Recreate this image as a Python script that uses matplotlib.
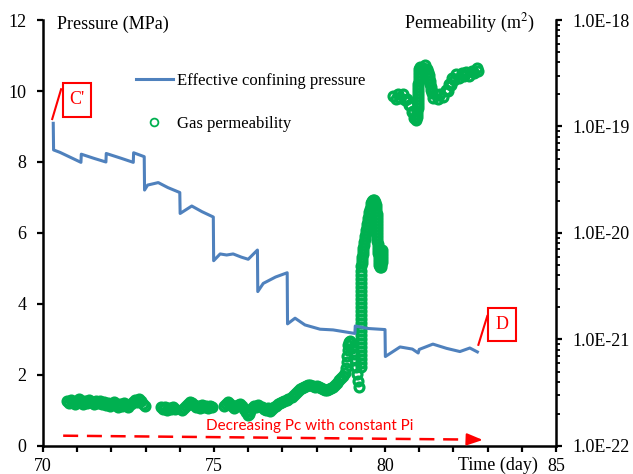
import matplotlib
matplotlib.use("Agg")
import matplotlib.pyplot as plt
from matplotlib.lines import Line2D
from matplotlib.patches import Rectangle
from matplotlib.ticker import FuncFormatter, LogLocator, NullFormatter

plt.rcParams['font.family'] = 'Liberation Serif'
plt.rcParams['mathtext.fontset'] = 'stix'

BLUE = '#4F81BD'
GREEN = '#00B050'
RED = '#FF0000'

# effective confining pressure (MPa) vs time (day)
pc_time = [70.30, 70.31, 70.50, 71.11, 71.12, 71.50, 71.84, 71.85, 72.30, 72.64,
           72.65, 72.96, 72.97, 73.06, 73.37, 73.65, 74.00, 74.01, 74.35, 74.65,
           74.98, 74.99, 75.18, 75.37, 75.56, 75.80, 76.00, 76.27, 76.28, 76.44,
           76.80, 77.14, 77.15, 77.37, 77.66, 78.10, 78.48, 79.12, 79.13, 79.50,
           80.00, 80.01, 80.44, 80.80, 80.97, 81.00, 81.40, 81.80, 82.19, 82.48,
           82.70]
pc_mpa = [9.09, 8.34, 8.27, 7.99, 8.22, 8.10, 8.00, 8.24, 8.10, 7.99,
          8.26, 8.15, 7.21, 7.35, 7.42, 7.28, 7.14, 6.55, 6.76, 6.60,
          6.45, 5.22, 5.41, 5.38, 5.41, 5.32, 5.26, 5.52, 4.35, 4.58,
          4.76, 4.88, 3.44, 3.60, 3.41, 3.29, 3.27, 3.17, 3.38, 3.31,
          3.28, 2.52, 2.79, 2.73, 2.62, 2.72, 2.87, 2.75, 2.66, 2.76,
          2.65]

# gas permeability (m2), one pair of lists per measurement run
k_t1 = [70.70, 70.76, 70.82, 70.88, 70.94, 71.00, 71.06, 71.12, 71.18, 71.24,
        71.30, 71.36, 71.42, 71.48, 71.54, 71.60, 71.66, 71.72, 71.78, 71.84,
        71.90, 71.96, 72.02, 72.08, 72.14, 72.20, 72.26, 72.32, 72.38, 72.44,
        72.50, 72.56, 72.62, 72.68, 72.74, 72.80, 72.86, 72.92, 72.98]
k_v1 = [2.65e-22, 2.53e-22, 2.70e-22, 2.59e-22, 2.48e-22, 2.65e-22, 2.76e-22, 2.59e-22, 2.48e-22, 2.65e-22,
        2.53e-22, 2.70e-22, 2.59e-22, 2.48e-22, 2.65e-22, 2.53e-22, 2.65e-22, 2.48e-22, 2.59e-22, 2.43e-22,
        2.53e-22, 2.37e-22, 2.48e-22, 2.59e-22, 2.43e-22, 2.32e-22, 2.48e-22, 2.37e-22, 2.53e-22, 2.43e-22,
        2.32e-22, 2.48e-22, 2.59e-22, 2.70e-22, 2.59e-22, 2.76e-22, 2.65e-22, 2.48e-22, 2.37e-22]

k_t2 = [73.45, 73.51, 73.57, 73.63, 73.69, 73.75, 73.81, 73.87]
k_v2 = [2.32e-22, 2.23e-22, 2.32e-22, 2.18e-22, 2.27e-22, 2.23e-22, 2.32e-22, 2.23e-22]

k_t3 = [74.05, 74.11, 74.17, 74.23, 74.29, 74.35, 74.41, 74.47, 74.53, 74.59,
        74.65, 74.71, 74.77, 74.83, 74.89, 74.95]
k_v3 = [2.18e-22, 2.27e-22, 2.37e-22, 2.48e-22, 2.59e-22, 2.53e-22, 2.43e-22, 2.32e-22, 2.37e-22, 2.27e-22,
        2.43e-22, 2.32e-22, 2.37e-22, 2.27e-22, 2.37e-22, 2.32e-22]

k_t4 = [75.28, 75.34, 75.40, 75.46, 75.52, 75.58, 75.64, 75.70, 75.76, 75.82,
        75.88, 75.94, 75.98, 76.02, 76.06, 76.12, 76.18, 76.24, 76.28]
k_v4 = [2.37e-22, 2.48e-22, 2.59e-22, 2.48e-22, 2.37e-22, 2.27e-22, 2.37e-22, 2.43e-22, 2.48e-22, 2.37e-22,
        2.23e-22, 2.08e-22, 1.95e-22, 2.00e-22, 2.13e-22, 2.27e-22, 2.37e-22, 2.32e-22, 2.43e-22]

k_t5 = [76.40, 76.46, 76.52, 76.58, 76.64, 76.70, 76.76, 76.82, 76.88, 76.94,
        77.00, 77.06, 77.12, 77.16]
k_v5 = [2.32e-22, 2.23e-22, 2.18e-22, 2.27e-22, 2.13e-22, 2.23e-22, 2.32e-22, 2.37e-22, 2.48e-22, 2.53e-22,
        2.59e-22, 2.65e-22, 2.70e-22, 2.76e-22]

k_t6 = [77.28, 77.34, 77.40, 77.46, 77.52, 77.58, 77.64, 77.70, 77.76, 77.82,
        77.88, 77.94, 78.00, 78.06, 78.12, 78.18, 78.24, 78.30, 78.36, 78.42,
        78.48, 78.54, 78.60, 78.66, 78.72, 78.78, 78.84]
k_v6 = [2.88e-22, 3.01e-22, 3.15e-22, 3.28e-22, 3.43e-22, 3.50e-22, 3.58e-22, 3.66e-22, 3.74e-22, 3.74e-22,
        3.66e-22, 3.58e-22, 3.66e-22, 3.58e-22, 3.50e-22, 3.43e-22, 3.36e-22, 3.36e-22, 3.43e-22, 3.50e-22,
        3.58e-22, 3.74e-22, 3.91e-22, 4.17e-22, 4.35e-22, 4.54e-22, 4.85e-22]

k_t7 = [78.87, 78.89, 78.90, 78.91, 78.92, 78.94, 78.97, 79.00, 79.04, 79.08,
        79.12, 79.16, 79.19, 79.22, 79.25]
k_v7 = [5.40e-22, 6.15e-22, 7.00e-22, 7.97e-22, 8.88e-22, 9.48e-22, 9.68e-22, 9.27e-22, 8.32e-22, 7.31e-22,
        6.42e-22, 5.52e-22, 4.74e-22, 4.08e-22, 3.58e-22]

k_t8 = [79.31, 79.31, 79.31, 79.31, 79.31, 79.30, 79.30, 79.30, 79.30, 79.30,
        79.30, 79.30, 79.30, 79.30, 79.30, 79.30, 79.29, 79.29, 79.29, 79.29,
        79.29, 79.29, 79.29, 79.29, 79.29]
k_v8 = [5.52e-22, 6.02e-22, 6.56e-22, 7.15e-22, 7.80e-22, 8.50e-22, 9.27e-22, 1.01e-21, 1.10e-21, 1.20e-21,
        1.31e-21, 1.43e-21, 1.56e-21, 1.70e-21, 1.85e-21, 2.02e-21, 2.20e-21, 2.40e-21, 2.62e-21, 2.85e-21,
        3.11e-21, 3.39e-21, 3.70e-21, 4.03e-21, 4.40e-21]

k_t9 = [79.31, 79.32, 79.33, 79.34, 79.35, 79.36, 79.37, 79.38, 79.39, 79.41,
        79.42, 79.44, 79.45, 79.47, 79.48, 79.50, 79.51, 79.53, 79.54, 79.56,
        79.58, 79.60, 79.63, 79.65, 79.68, 79.71, 79.73, 79.74, 79.75, 79.76,
        79.76, 79.76, 79.77, 79.77, 79.77, 79.78, 79.78, 79.78, 79.78, 79.79,
        79.79, 79.80, 79.80, 79.81, 79.81, 79.82, 79.83, 79.85, 79.87, 79.89,
        79.90, 79.91, 79.91, 79.91, 79.91]
k_v9 = [4.90e-21, 5.23e-21, 5.58e-21, 5.95e-21, 6.35e-21, 6.78e-21, 7.23e-21, 7.71e-21, 8.23e-21, 8.78e-21,
        9.37e-21, 1.00e-20, 1.07e-20, 1.14e-20, 1.22e-20, 1.30e-20, 1.38e-20, 1.48e-20, 1.57e-20, 1.68e-20,
        1.79e-20, 1.91e-20, 2.00e-20, 2.04e-20, 2.04e-20, 1.95e-20, 1.83e-20, 1.72e-20, 1.61e-20, 1.51e-20,
        1.41e-20, 1.32e-20, 1.24e-20, 1.16e-20, 1.09e-20, 1.02e-20, 9.58e-21, 8.98e-21, 8.41e-21, 7.88e-21,
        7.39e-21, 6.92e-21, 6.49e-21, 6.08e-21, 5.70e-21, 5.34e-21, 5.01e-21, 4.80e-21, 4.80e-21, 5.01e-21,
        5.34e-21, 5.70e-21, 6.08e-21, 6.49e-21, 6.92e-21]

k_t10 = [80.23, 80.31, 80.38, 80.45, 80.53, 80.59, 80.64, 80.69, 80.73, 80.78,
         80.82, 80.86, 80.91, 80.93, 80.94, 80.94, 80.95, 80.95, 80.95, 80.96,
         80.96, 80.96, 80.97, 80.97, 80.97, 80.98, 80.98, 80.98, 80.99, 80.99,
         81.02, 81.10, 81.17, 81.23, 81.27, 81.29, 81.30, 81.31, 81.32, 81.33,
         81.34, 81.36, 81.40, 81.48, 81.55, 81.62, 81.70, 81.77, 81.83, 81.87,
         81.92, 81.96, 82.02, 82.09, 82.16, 82.24, 82.31, 82.38, 82.46, 82.53,
         82.60, 82.68, 82.72]
k_v10 = [1.93e-19, 1.81e-19, 2.02e-19, 1.87e-19, 2.04e-19, 1.79e-19, 1.83e-19, 1.58e-19, 1.59e-19, 1.37e-19,
         1.40e-19, 1.19e-19, 1.15e-19, 1.23e-19, 1.31e-19, 1.40e-19, 1.49e-19, 1.59e-19, 1.70e-19, 1.81e-19,
         1.93e-19, 2.06e-19, 2.20e-19, 2.35e-19, 2.51e-19, 2.67e-19, 2.85e-19, 3.04e-19, 3.25e-19, 3.47e-19,
         3.62e-19, 3.51e-19, 3.78e-19, 3.47e-19, 3.25e-19, 3.04e-19, 2.85e-19, 2.67e-19, 2.51e-19, 2.35e-19,
         2.20e-19, 2.06e-19, 1.87e-19, 2.00e-19, 1.83e-19, 2.02e-19, 1.91e-19, 2.20e-19, 2.15e-19, 2.51e-19,
         2.45e-19, 2.85e-19, 2.73e-19, 3.08e-19, 2.88e-19, 3.18e-19, 2.95e-19, 3.25e-19, 2.98e-19, 3.32e-19,
         3.15e-19, 3.54e-19, 3.32e-19]

k_time = k_t1 + k_t2 + k_t3 + k_t4 + k_t5 + k_t6 + k_t7 + k_t8 + k_t9 + k_t10
k_perm = k_v1 + k_v2 + k_v3 + k_v4 + k_v5 + k_v6 + k_v7 + k_v8 + k_v9 + k_v10

perm_ticks = [1e-22, 1e-21, 1e-20, 1e-19, 1e-18]

fig = plt.figure(figsize=(6.33, 4.74), dpi=100)
ax = fig.add_axes([0.0679, 0.0591, 0.8105, 0.8987])
ax2 = ax.twinx()

# permeability on the right (log) axis, drawn underneath the pressure curve
ax2.plot(k_time, k_perm, linestyle='none', marker='o', markersize=6.4,
         markerfacecolor='none', markeredgecolor=GREEN, markeredgewidth=2.3)
ax2.set_yscale('log')
ax2.set_ylim(1e-22, 1e-18)
ax2.set_yticks(perm_ticks)
ax2.yaxis.set_major_formatter(FuncFormatter(lambda v, p: f'{v:.1E}'))
ax2.yaxis.set_minor_locator(LogLocator(base=10, subs=range(2, 10), numticks=20))
ax2.yaxis.set_minor_formatter(NullFormatter())

ax.plot(pc_time, pc_mpa, color=BLUE, lw=2.2, solid_joinstyle='round')
ax.set_xlim(70, 85)
ax.set_ylim(0, 12)
ax.set_xticks(range(70, 86))
ax.set_xticklabels([str(v) if v in (70, 75, 80, 85) else '' for v in range(70, 86)])
ax.set_yticks(range(0, 13, 2))

ax.set_zorder(ax2.get_zorder() + 1)
ax.patch.set_visible(False)

for a in (ax, ax2):
    a.spines['top'].set_visible(False)
ax.spines['right'].set_visible(False)
ax2.spines['left'].set_visible(False)
ax2.spines['bottom'].set_visible(False)
for sp in (ax.spines['left'], ax.spines['bottom'], ax2.spines['right']):
    sp.set_linewidth(1.8)

ax.tick_params(axis='x', direction='out', length=4, width=1.6, labelsize=13, pad=5)
ax.tick_params(axis='y', direction='out', length=4, width=1.6, labelsize=13, pad=8)
ax2.tick_params(axis='y', which='major', direction='out', length=4, width=1.6, labelsize=13, pad=8)
ax2.tick_params(axis='y', which='minor', direction='out', length=3, width=1.3)

ax.text(0.028, 0.980, 'Pressure (MPa)', transform=ax.transAxes, fontsize=13,
        ha='left', va='baseline')
ax.text(0.959, 0.980, 'Permeability (m$^{2}$)', transform=ax.transAxes, fontsize=13,
        ha='right', va='baseline')
ax.text(0.965, -0.0563, 'Time (day)', transform=ax.transAxes, fontsize=13,
        ha='right', va='baseline')

handles = [Line2D([], [], color=BLUE, lw=2.2),
           Line2D([], [], linestyle='none', marker='o', markersize=5.6,
                  markerfacecolor='none', markeredgecolor=GREEN, markeredgewidth=1.3)]
ax.legend(handles, ['Effective confining pressure', 'Gas permeability'],
          loc='upper left', bbox_to_anchor=(0.181, 0.8755), frameon=False,
          fontsize=12, handlelength=2.2, handletextpad=0.25, labelspacing=1.62,
          borderpad=0, borderaxespad=0)

# state markers C' and D
ax.add_patch(Rectangle((70.59, 9.27), 0.80, 0.96, fill=False, edgecolor=RED, lw=1.5))
ax.text(70.99, 9.75, "C'", color=RED, fontsize=13, ha='center', va='center')
ax.plot([70.27, 70.53], [9.21, 10.05], color=RED, lw=1.5)

ax.add_patch(Rectangle((83.02, 2.97), 0.81, 0.91, fill=False, edgecolor=RED, lw=1.5,
                       clip_on=False))
ax.text(83.43, 3.42, 'D', color=RED, fontsize=13, ha='center', va='center')
ax.plot([82.73, 82.99], [2.85, 3.66], color=RED, lw=1.5)

# dashed arrow along the bottom
ax.plot([70.59, 82.55], [0.29, 0.18], color=RED, lw=1.8, linestyle=(0, (6, 3.5)))
ax.annotate('', xy=(82.86, 0.17), xytext=(82.45, 0.185),
            arrowprops=dict(arrowstyle='-|>,head_length=1.2,head_width=0.45',
                            color=RED, lw=1.5, mutation_scale=8, shrinkA=0, shrinkB=0))
ax.text(77.79, 0.57, 'Decreasing Pc with constant Pi', color=RED, fontsize=11,
        family='Lato', ha='center', va='center')

fig.savefig('out.png', dpi=100)
